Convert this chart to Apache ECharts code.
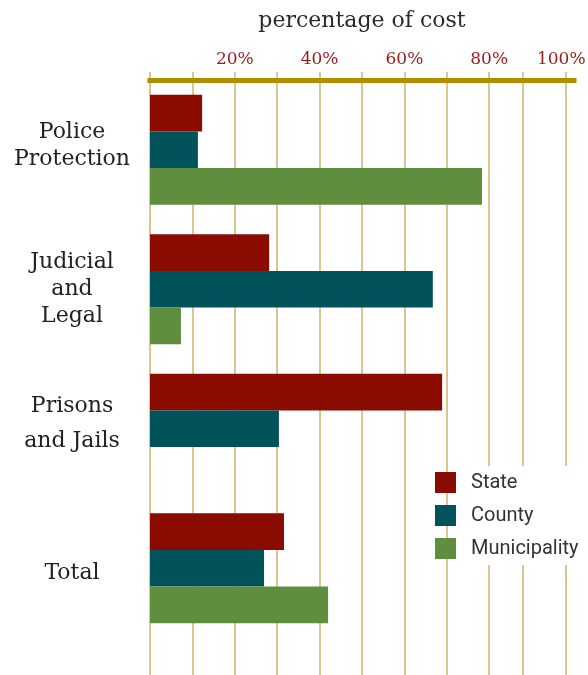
<!DOCTYPE html>
<html>
<head>
<meta charset="utf-8">
<title>percentage of cost</title>
<script src="https://cdn.jsdelivr.net/npm/echarts@6/dist/echarts.min.js"></script>
<style>
  html, body { margin: 0; padding: 0; background: #fff; }
  #main { width: 588px; height: 675px; }
</style>
</head>
<body>
<div id="main"></div>
<script>
// data (percent of cost)
var categories = ['Police\nProtection', 'Judicial\nand\nLegal', 'Prisons\nand Jails', 'Total'];
var seriesNames = ['State', 'County', 'Municipality'];
var stateValues = [12.3, 28.1, 68.9, 31.6];
var countyValues = [11.3, 66.7, 30.4, 26.9];
var municipalityValues = [78.3, 7.3, 0, 42.0];

// tick labels and grid lines as they sit in the picture
var tickValues = [20, 40, 60, 80, 97];
var tickLabels = ['20%', '40%', '60%', '80%', '100%'];
var gridValues = [0, 10, 20, 30, 40, 50, 60, 70, 80, 88, 98];

var colors = ['#8a0b00', '#02525b', '#5f8e3e'];

// spacer lines (rich style names) used to nudge the row labels:
// [above, between lines, below]
var labelSpacers = [
    ['', '', 'sp8'],
    ['', '', ''],
    ['', 'sp8', 'sp9'],
    ['sp10', '', '']
];

function rowLabel(value, index) {
    var sp = labelSpacers[index] || ['', '', ''];
    var lines = value.split('\n');
    var mid = sp[1] ? '\n{' + sp[1] + '| }\n' : '\n';
    var out = lines.join(mid);
    if (sp[0]) out = '{' + sp[0] + '| }\n' + out;
    if (sp[2]) out = out + '\n{' + sp[2] + '| }';
    return out;
}

var myChart = echarts.init(document.getElementById('main'));

var option = {
    animation: false,
    color: colors,
    title: {
        text: 'percentage of cost',
        left: 357,
        top: 5,
        textAlign: 'center',
        textStyle: {
            fontFamily: 'DejaVu Serif',
            fontSize: 22,
            fontWeight: 'normal',
            color: '#2a2a2a'
        }
    },
    legend: {
        data: seriesNames,
        orient: 'vertical',
        left: 435,
        top: 466,
        padding: 0,
        itemGap: 0,
        itemWidth: 21,
        itemHeight: 21,
        icon: 'rect',
        selectedMode: false,
        textStyle: {
            fontFamily: 'Roboto',
            fontSize: 20,
            color: '#333',
            lineHeight: 23,
            backgroundColor: '#fff',
            padding: [5, 10, 5, 10],
            width: 115
        }
    },
    grid: [
        { left: 150, right: 14, top: 80, bottom: 37, outerBoundsMode: 'none' },
        { left: 150, right: 14, top: 72, bottom: 0, outerBoundsMode: 'none' }
    ],
    xAxis: [
        {
            gridIndex: 0,
            type: 'value',
            position: 'top',
            min: 0,
            max: 100,
            axisLine: { show: true, lineStyle: { color: '#b08e00', width: 5, cap: 'square' } },
            axisTick: { show: false },
            splitLine: { show: false },
            axisLabel: {
                customValues: tickValues,
                margin: 12,
                fontFamily: 'DejaVu Serif',
                fontSize: 17,
                color: '#9a1a1a',
                formatter: function (v) {
                    var i = tickValues.indexOf(v);
                    return i >= 0 ? tickLabels[i] : '';
                }
            }
        },
        {
            gridIndex: 1,
            type: 'value',
            min: 0,
            max: 100,
            axisLine: { show: false },
            axisLabel: { show: false },
            axisTick: { show: false, customValues: gridValues },
            splitLine: { show: true, lineStyle: { color: '#dcc690', width: 2 } }
        }
    ],
    yAxis: [
        {
            gridIndex: 0,
            type: 'category',
            inverse: true,
            data: categories,
            axisLine: { show: false },
            axisTick: { show: false },
            axisLabel: {
                align: 'center',
                margin: 78,
                fontFamily: 'DejaVu Serif',
                fontSize: 22,
                lineHeight: 27,
                color: '#222',
                formatter: rowLabel,
                rich: {
                    sp8: { fontSize: 1, lineHeight: 8 },
                    sp9: { fontSize: 1, lineHeight: 9 },
                    sp10: { fontSize: 1, lineHeight: 10 }
                }
            }
        },
        {
            gridIndex: 1,
            type: 'value',
            show: false
        }
    ],
    series: [
        {
            name: seriesNames[0],
            type: 'bar',
            data: stateValues,
            barGap: '0%',
            barCategoryGap: '21%'
        },
        {
            name: seriesNames[1],
            type: 'bar',
            data: countyValues,
            barGap: '0%',
            barCategoryGap: '21%'
        },
        {
            name: seriesNames[2],
            type: 'bar',
            data: municipalityValues,
            barGap: '0%',
            barCategoryGap: '21%'
        }
    ]
};

myChart.setOption(option);
</script>
</body>
</html>
